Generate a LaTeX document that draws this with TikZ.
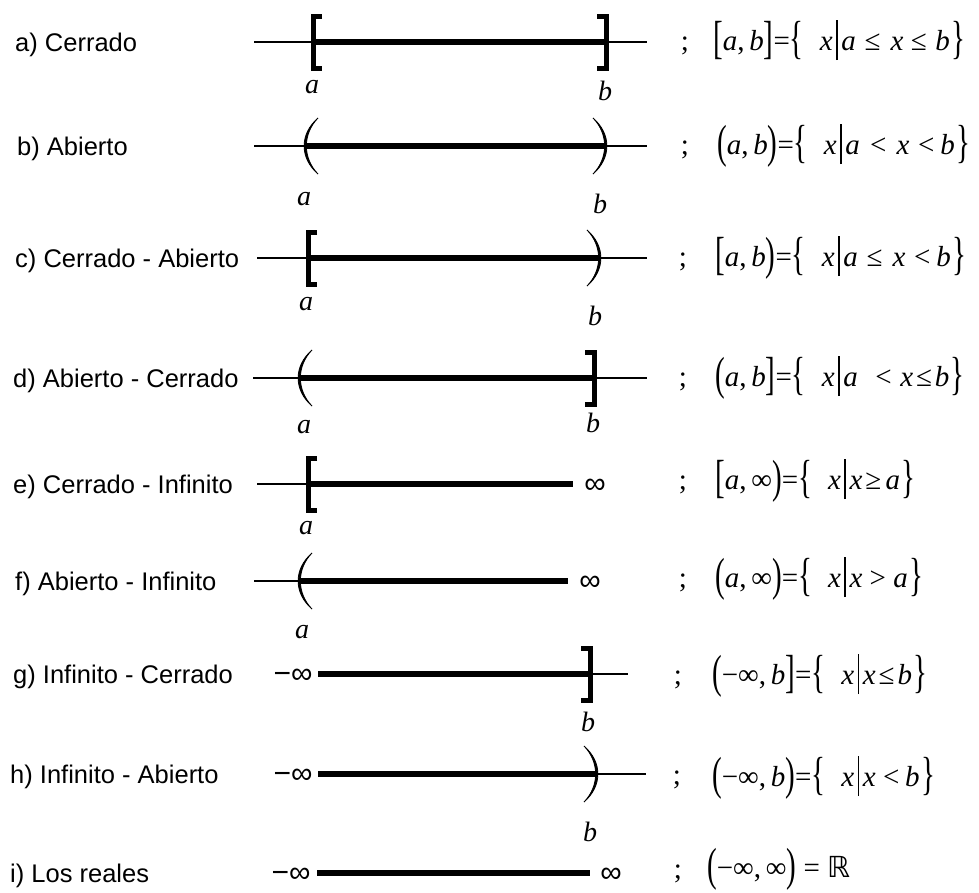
\documentclass[tikz,border=0pt]{standalone}
\usepackage{fontspec}
\setmainfont{Liberation Serif}
\newfontfamily\lsans{Liberation Sans}
\newfontfamily\dsans{DejaVu Sans}
\usepackage{graphicx}
\newcommand\dl[1]{\raisebox{-0.12em}{\scalebox{1}[1.6]{#1}}}
\newcommand\sep{\kern0.12em\rule[-0.35em]{0.06em}{1.4em}\kern0.12em}
\newcommand\ia{\textit{a}}
\newcommand\ib{\textit{b}}
\newcommand\ix{\textit{x}}
\newcommand\ob{\dl{\{}\hspace{0.55em}}
\tikzset{
  lab/.style={anchor=base west, font=\lsans\fontsize{25.5}{30}\selectfont, inner sep=0pt},
  eq/.style={anchor=base west, font=\fontsize{29}{34}\selectfont, inner sep=0pt},
  semi/.style={anchor=base, font=\fontsize{29}{34}\selectfont, inner sep=0pt},
  ep/.style={anchor=base, font=\itshape\fontsize{28}{34}\selectfont, inner sep=0pt},
  infl/.style={anchor=center, font=\lsans\fontsize{30}{30}\selectfont, inner sep=0pt},
  thinl/.style={line width=1.3pt},
  thickl/.style={line width=5.5pt},
  brk/.style={line width=5pt, miter limit=10},
  lbr/.pic={\draw[brk] (9,-26) -- (0,-26) -- (0,26) -- (9,26);},
  rbr/.pic={\draw[brk] (-9,-26) -- (0,-26) -- (0,26) -- (-9,26);},
  lpar/.pic={\filldraw[line width=0.8pt] (14,-28) .. controls (-4.5,-12) and (-4.5,12) .. (14,28)
             .. controls (-1.5,12) and (-1.5,-12) .. cycle;},
  rpar/.pic={\filldraw[line width=0.8pt] (-14,-28) .. controls (4.5,-12) and (4.5,12) .. (-14,28)
             .. controls (1.5,12) and (1.5,-12) .. cycle;},
}
\begin{document}
\begin{tikzpicture}[x=1pt,y=-1pt]
\fill[white] (0,0) rectangle (979,892);
\useasboundingbox (0,0) rectangle (979,892);

% ---- a) Cerrado
\coordinate (aL) at (254,42); \coordinate (aR) at (647,42);
\coordinate (aA) at (313,42); \coordinate (aB) at (606,42);
\draw[thinl] (aL) -- (aR);
\draw[thickl] (aA) -- (aB);
\pic at (aA) {lbr}; \pic at (aB) {rbr};
\node[lab] (la) at (15,51) {a) Cerrado};
\node[ep] (aa) at (312,93) {a};
\node[ep] (ab) at (605,100) {b};
\node[semi] (sa) at (685,50) {;};
\node[eq] (ea) at (713,50) {\dl{[}\ia,\,\ib\dl{]}=\ob\ix\sep\ia\hspace{0.3em}≤\hspace{0.35em}\ix\hspace{0.25em}≤\hspace{0.3em}\ib\kern0.05em\dl{\}}};

% ---- b) Abierto
\coordinate (bL) at (254,146); \coordinate (bR) at (647,146);
\coordinate (bA) at (304,146); \coordinate (bB) at (607,146);
\draw[thinl] (bL) -- (bR);
\draw[thickl] (bA) -- (bB);
\pic at (bA) {lpar}; \pic at (bB) {rpar};
\node[lab] (lb) at (17,155) {b) Abierto};
\node[ep] (ba) at (304,205) {a};
\node[ep] (bb) at (600,213) {b};
\node[semi] (sb) at (685,154) {;};
\node[eq] (eb) at (717,154) {\dl{(}\ia,\,\ib\dl{)}=\ob\ix\sep\ia\hspace{0.35em}<\hspace{0.35em}\ix\hspace{0.3em}<\hspace{0.2em}\ib\kern0.05em\dl{\}}};

% ---- c) Cerrado - Abierto
\coordinate (cL) at (257,258); \coordinate (cR) at (647,258);
\coordinate (cA) at (308,258); \coordinate (cB) at (601,258);
\draw[thinl] (cL) -- (cR);
\draw[thickl] (cA) -- (cB);
\pic at (cA) {lbr}; \pic at (cB) {rpar};
\node[lab] (lc) at (15,267) {c) Cerrado - Abierto};
\node[ep] (ca) at (306,310) {a};
\node[ep] (cb) at (595,325) {b};
\node[semi] (sc) at (683,266) {;};
\node[eq] (ec) at (715,266) {\dl{[}\ia,\,\ib\dl{)}=\ob\ix\sep\ia\hspace{0.3em}≤\hspace{0.35em}\ix\hspace{0.3em}<\hspace{0.2em}\ib\kern0.05em\dl{\}}};

% ---- d) Abierto - Cerrado
\coordinate (dL) at (253,378); \coordinate (dR) at (647,378);
\coordinate (dA) at (298,378); \coordinate (dB) at (594,378);
\draw[thinl] (dL) -- (dR);
\draw[thickl] (dA) -- (dB);
\pic at (dA) {lpar}; \pic at (dB) {rbr};
\node[lab] (ld) at (13,387) {d) Abierto - Cerrado};
\node[ep] (da) at (304,433) {a};
\node[ep] (db) at (593,432) {b};
\node[semi] (sd) at (683,386) {;};
\node[eq] (ed) at (715,386) {\dl{(}\ia,\,\ib\dl{]}=\ob\ix\sep\ia\hspace{0.6em}<\hspace{0.3em}\ix\hspace{0.1em}≤\hspace{0.1em}\ib\kern0.05em\dl{\}}};

% ---- e) Cerrado - Infinito
\coordinate (eL) at (257,484);
\coordinate (eA) at (308,484); \coordinate (eB) at (573,484);
\draw[thinl] (eL) -- (eA);
\draw[thickl] (eA) -- (eB);
\pic at (eA) {lbr};
\node[infl] (einf) at (595,486) {∞};
\node[lab] (le) at (13,493) {e) Cerrado - Infinito};
\node[ep] (ea2) at (306,534) {a};
\node[semi] (se) at (683,489) {;};
\node[eq] (ee) at (715,489) {\dl{[}\ia,\,∞\dl{)}=\ob\ix\sep\ix\hspace{0.1em}≥\hspace{0.15em}\ia\kern0.05em\dl{\}}};

% ---- f) Abierto - Infinito
\coordinate (fL) at (254,581);
\coordinate (fA) at (298,581); \coordinate (fB) at (568,581);
\draw[thinl] (fL) -- (fA);
\draw[thickl] (fA) -- (fB);
\pic at (fA) {lpar};
\node[infl] (finf) at (590,583) {∞};
\node[lab] (lf) at (15,590) {f) Abierto - Infinito};
\node[ep] (fa) at (302,638) {a};
\node[semi] (sf) at (683,587) {;};
\node[eq] (ef) at (715,587) {\dl{(}\ia,\,∞\dl{)}=\ob\ix\sep\ix\hspace{0.25em}>\hspace{0.25em}\ia\kern0.05em\dl{\}}};

% ---- g) Infinito - Cerrado
\coordinate (gA) at (318,674); \coordinate (gB) at (590,674);
\coordinate (gR) at (628,674);
\draw[thinl] (gB) -- (gR);
\draw[thickl] (gA) -- (gB);
\pic at (gB) {rbr};
\node[infl] (gmi) at (293,676) {−∞};
\node[lab] (lg) at (13,683) {g) Infinito - Cerrado};
\node[ep] (gb) at (588,731) {b};
\node[semi] (sg) at (678,684) {;};
\node[eq] (eg) at (712,684) {\dl{(}−∞,\,\ib\dl{]}=\ob\ix\sep\ix\hspace{0.1em}≤\hspace{0.1em}\ib\kern0.05em\dl{\}}};

% ---- h) Infinito - Abierto
\coordinate (hA) at (318,774); \coordinate (hB) at (598,774);
\coordinate (hR) at (646,774);
\draw[thinl] (hB) -- (hR);
\draw[thickl] (hA) -- (hB);
\pic at (hB) {rpar};
\node[infl] (hmi) at (293,776) {−∞};
\node[lab] (lh) at (10,783) {h) Infinito - Abierto};
\node[ep] (hb) at (590,841) {b};
\node[semi] (sh) at (677,784) {;};
\node[eq] (eh) at (712,786) {\dl{(}−∞,\,\ib\dl{)}=\ob\ix\sep\ix\hspace{0.25em}<\hspace{0.2em}\ib\kern0.05em\dl{\}}};

% ---- i) Los reales
\coordinate (iA) at (317,873); \coordinate (iB) at (590,873);
\draw[thickl] (iA) -- (iB);
\node[infl] (imi) at (291,875) {−∞};
\node[infl] (iinf) at (611,875) {∞};
\node[lab] (li) at (10,882) {i) Los reales};
\node[semi] (si) at (678,878) {;};
\node[eq] (ei) at (707,877) {\dl{(}−∞,\,∞\dl{)}\hspace{0.25em}=\hspace{0.25em}{\dsans ℝ}};
\end{tikzpicture}
\end{document}
